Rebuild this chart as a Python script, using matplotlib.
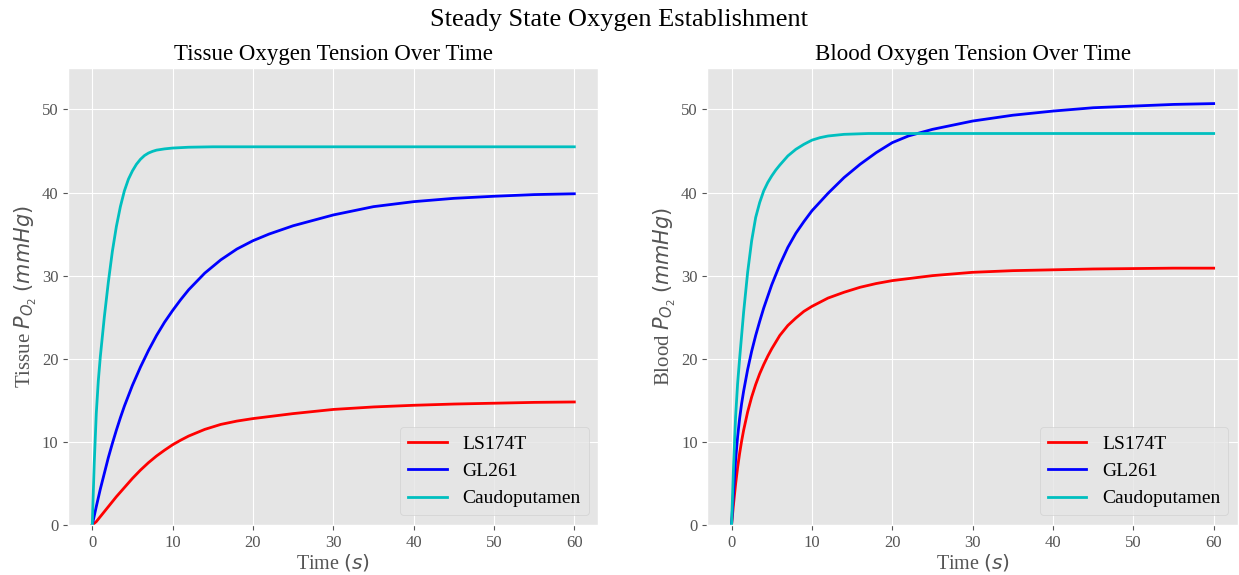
import matplotlib
matplotlib.use("Agg")
import matplotlib.pyplot as plt

plt.style.use("ggplot")
plt.rcParams["font.family"] = ["Liberation Serif", "DejaVu Serif"]
plt.rcParams["mathtext.fontset"] = "dejavusans"

# values (time in s, PO2 in mmHg)
t_tis_red = [0, 0.5, 1, 1.5, 2, 3, 4, 5, 6, 7, 8, 9, 10, 11, 12, 14, 16, 18, 20, 25, 30, 35, 40, 45, 50, 55, 60]
tis_red = [0, 0.4, 1.0, 1.6, 2.2, 3.4, 4.5, 5.6, 6.6, 7.5, 8.3, 9.0, 9.65, 10.2, 10.7, 11.5, 12.1, 12.5, 12.8,
           13.4, 13.9, 14.2, 14.4, 14.55, 14.65, 14.75, 14.8]

t_tis_blue = [0, 0.5, 1, 1.5, 2, 2.5, 3, 3.5, 4, 5, 6, 7, 8, 9, 10, 11, 12, 14, 16, 18, 20, 22, 25, 30, 35, 40,
              45, 50, 55, 60]
tis_blue = [0, 2.2, 4.3, 6.2, 8.1, 9.8, 11.4, 12.9, 14.3, 16.8, 19.0, 21.0, 22.8, 24.4, 25.8, 27.1, 28.3, 30.3,
            31.9, 33.2, 34.2, 35.0, 36.0, 37.3, 38.3, 38.9, 39.3, 39.55, 39.75, 39.85]

t_tis_cyan = [0, 0.25, 0.5, 0.75, 1, 1.5, 2, 2.5, 3, 3.5, 4, 4.5, 5, 5.5, 6, 6.5, 7, 7.5, 8, 9, 10, 12, 15, 20,
              30, 40, 50, 60]
tis_cyan = [0, 7.5, 13.4, 17.3, 20.2, 25.0, 29.2, 32.9, 35.9, 38.3, 40.2, 41.6, 42.6, 43.4, 44.0, 44.45, 44.75,
            44.95, 45.1, 45.25, 45.35, 45.45, 45.5, 45.5, 45.5, 45.5, 45.5, 45.5]

t_bld_red = [0, 0.25, 0.5, 0.75, 1, 1.25, 1.5, 2, 2.5, 3, 3.5, 4, 4.5, 5, 6, 7, 8, 9, 10, 12, 14, 16, 18, 20,
             25, 30, 35, 40, 45, 50, 55, 60]
bld_red = [0, 2.6, 4.9, 6.9, 8.6, 10.1, 11.4, 13.6, 15.4, 16.9, 18.2, 19.3, 20.3, 21.2, 22.8, 24.0, 24.9, 25.7,
           26.3, 27.3, 28.0, 28.6, 29.05, 29.4, 30.0, 30.4, 30.6, 30.7, 30.8, 30.85, 30.9, 30.9]

t_bld_blue = [0, 0.25, 0.5, 0.75, 1, 1.25, 1.5, 2, 2.5, 3, 3.5, 4, 5, 6, 7, 8, 9, 10, 12, 14, 16, 18, 20, 22,
              25, 30, 35, 40, 45, 50, 55, 60]
bld_blue = [0, 4.2, 7.8, 10.6, 12.8, 14.6, 16.1, 18.7, 20.9, 22.8, 24.5, 26.1, 28.9, 31.3, 33.4, 35.1, 36.5,
            37.8, 39.9, 41.8, 43.4, 44.8, 46.0, 46.8, 47.6, 48.6, 49.3, 49.8, 50.2, 50.4, 50.6, 50.7]

t_bld_cyan = [0, 0.25, 0.5, 0.75, 1, 1.5, 2, 2.5, 3, 3.5, 4, 4.5, 5, 5.5, 6, 7, 8, 9, 10, 11, 12, 14, 17, 20,
              30, 40, 50, 60]
bld_cyan = [0, 7.2, 13.0, 17.0, 20.0, 25.6, 30.4, 34.2, 37.0, 38.8, 40.2, 41.2, 42.0, 42.7, 43.3, 44.4, 45.2,
            45.8, 46.3, 46.6, 46.8, 47.0, 47.1, 47.1, 47.1, 47.1, 47.1, 47.1]

labels = ["LS174T", "GL261", "Caudoputamen"]
colors = ["r", "b", "c"]

fig = plt.figure(figsize=(12.39, 5.75), dpi=100)
ax1 = fig.add_axes([0.055, 0.087, 0.428, 0.795])
ax2 = fig.add_axes([0.571, 0.087, 0.428, 0.795])

panels = [
    (ax1, [(t_tis_red, tis_red), (t_tis_blue, tis_blue), (t_tis_cyan, tis_cyan)],
     "Tissue Oxygen Tension Over Time", "Tissue $P_{O_2}$ $(mmHg)$"),
    (ax2, [(t_bld_red, bld_red), (t_bld_blue, bld_blue), (t_bld_cyan, bld_cyan)],
     "Blood Oxygen Tension Over Time", "Blood $P_{O_2}$ $(mmHg)$"),
]

for ax, series, title, ylab in panels:
    for i, (tt, vals) in enumerate(series):
        ax.plot(tt, vals, color=colors[i], lw=2, label=labels[i])
    ax.set_ylim(0, 55)
    ax.set_xlim(-3, 63)
    ax.set_title(title, fontsize=16.5, color="black", pad=6)
    ax.set_xlabel("Time $(s)$", fontsize=14.5, color="#555555", labelpad=1)
    ax.set_ylabel(ylab, fontsize=15, color="#555555", labelpad=2)
    ax.tick_params(labelsize=12)
    ax.legend(loc="lower right", fontsize=14)

fig.suptitle("Steady State Oxygen Establishment", fontsize=19, y=0.985)

fig.savefig("out.png", dpi=100)
